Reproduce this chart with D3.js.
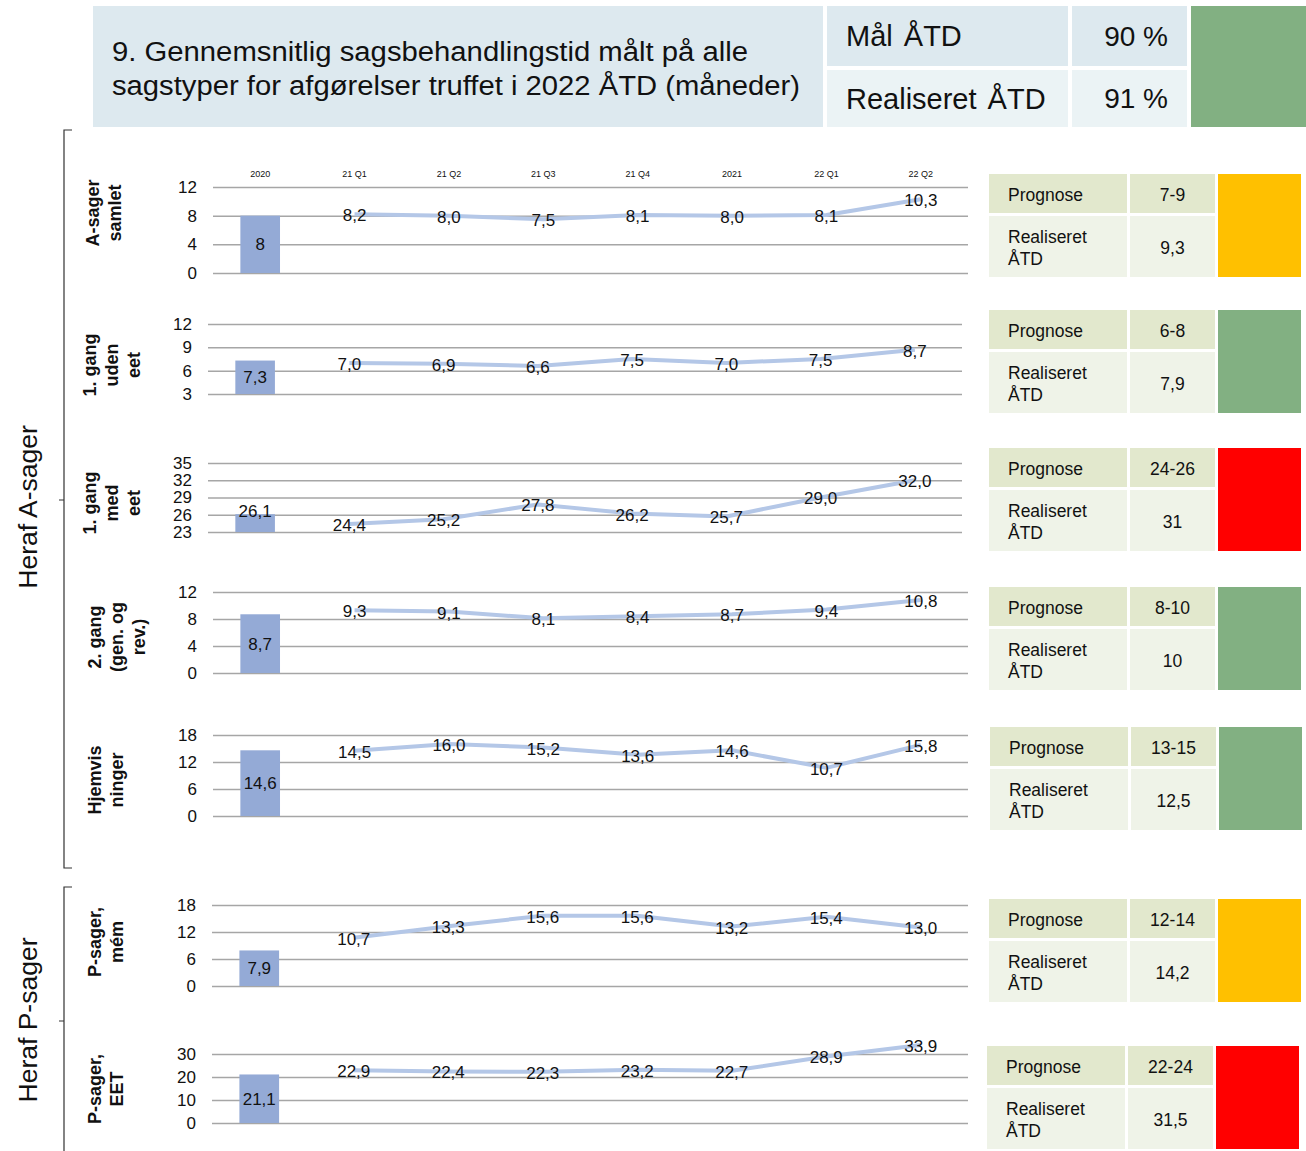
<!DOCTYPE html>
<html>
<head>
<meta charset="utf-8">
<script src="https://cdn.jsdelivr.net/npm/d3@7"></script>
<style>
  body { margin: 0; background: #fff; }
  text { font-family: "Liberation Sans", Arial, sans-serif; fill: #111; }
</style>
</head>
<body>
<div id="chart"></div>
<script>
// categories on the x axis (only printed on the first panel)
var categories = ["2020", "21 Q1", "21 Q2", "21 Q3", "21 Q4", "2021", "22 Q1", "22 Q2"];

// panel titles (lines of the rotated label)
var panelTitles = [
  ["A-sager", "samlet"],
  ["1. gang", "uden", "eet"],
  ["1. gang", "med", "eet"],
  ["2. gang", "(gen. og", "rev.)"],
  ["Hjemvis", "ninger"],
  ["P-sager,", "mém"],
  ["P-sager,", "EET"]
];

// 2020 bar value per panel
var barValues = [8, 7.3, 26.1, 8.7, 14.6, 7.9, 21.1];

// quarterly / yearly line values (21 Q1 .. 22 Q2)
var lineValues = [
  [8.2, 8.0, 7.5, 8.1, 8.0, 8.1, 10.3],
  [7.0, 6.9, 6.6, 7.5, 7.0, 7.5, 8.7],
  [24.4, 25.2, 27.8, 26.2, 25.7, 29.0, 32.0],
  [9.3, 9.1, 8.1, 8.4, 8.7, 9.4, 10.8],
  [14.5, 16.0, 15.2, 13.6, 14.6, 10.7, 15.8],
  [10.7, 13.3, 15.6, 15.6, 13.2, 15.4, 13.0],
  [22.9, 22.4, 22.3, 23.2, 22.7, 28.9, 33.9]
];

// y tick values per panel
var tickValues = [
  [0, 4, 8, 12],
  [3, 6, 9, 12],
  [23, 26, 29, 32, 35],
  [0, 4, 8, 12],
  [0, 6, 12, 18],
  [0, 6, 12, 18],
  [0, 10, 20, 30]
];

// side tables
var prognose = ["7-9", "6-8", "24-26", "8-10", "13-15", "12-14", "22-24"];
var realiseret = ["9,3", "7,9", "31", "10", "12,5", "14,2", "31,5"];
var panelStatus = ["yellow", "green", "red", "green", "green", "yellow", "red"];

// header
var headerTitle = ["9. Gennemsnitlig sagsbehandlingstid  målt på alle",
                   "sagstyper for afgørelser truffet i 2022 ÅTD (måneder)"];
var headerRows = [["Mål ÅTD", "90 %"], ["Realiseret ÅTD", "91 %"]];
var headerStatus = "green";

var groups = [
  {label: "Heraf A-sager", top: 130, bottom: 868, mid: 500, cy: 507},
  {label: "Heraf P-sager", top: 887, bottom: 1152, mid: 1021, cy: 1020}
];

// layout (pixel positions only)
var panelLayout = [
  {top: 187, bottom: 273, x0: 213, x1: 968, tx: 93, ty: 213, tabX: 989, tabY: 174},
  {top: 324, bottom: 394, x0: 208, x1: 962, tx: 90, ty: 365, tabX: 989, tabY: 310},
  {top: 463, bottom: 532, x0: 208, x1: 962, tx: 90, ty: 503, tabX: 989, tabY: 448},
  {top: 592, bottom: 673, x0: 213, x1: 968, tx: 95, ty: 637, tabX: 989, tabY: 587},
  {top: 735, bottom: 816, x0: 213, x1: 968, tx: 95, ty: 780, tabX: 990, tabY: 727},
  {top: 905, bottom: 986, x0: 212, x1: 968, tx: 95, ty: 942, tabX: 989, tabY: 899},
  {top: 1054, bottom: 1123, x0: 212, x1: 968, tx: 95, ty: 1089, tabX: 987, tabY: 1046}
];

var statusColor = {green: "#82b082", yellow: "#ffc000", red: "#ff0000"};

var locale = d3.formatLocale({decimal: ",", thousands: ".", grouping: [3], currency: ["", " kr"]});
var fmtLine = locale.format(".1f");
var fmtBar = locale.format(".1~f");

var svg = d3.select("#chart").append("svg")
  .attr("width", 1306)
  .attr("height", 1151);

// ---- header ----
var header = svg.append("g").attr("class", "header");
header.append("rect").attr("x", 93).attr("y", 6).attr("width", 730).attr("height", 121).attr("fill", "#dde9ef");
header.selectAll(".htitle")
  .data(headerTitle)
  .enter().append("text")
  .attr("class", "htitle")
  .attr("x", 112)
  .attr("y", (d, i) => 61 + i * 34)
  .attr("font-size", 27)
  .attr("textLength", (d, i) => i == 0 ? 636 : 688)
  .attr("lengthAdjust", "spacingAndGlyphs")
  .text(d => d);

headerRows.forEach(function(row, i) {
  var y = i == 0 ? 6 : 70, h = i == 0 ? 60 : 57;
  var fill = i == 0 ? "#dde9ef" : "#ebf3f5";
  header.append("rect").attr("x", 827).attr("y", y).attr("width", 241).attr("height", h).attr("fill", fill);
  header.append("rect").attr("x", 1072).attr("y", y).attr("width", 115).attr("height", h).attr("fill", fill);
  header.append("text").attr("x", 846).attr("y", y + h / 2).attr("dy", "0.35em")
    .attr("font-size", 29).attr("word-spacing", 3).text(row[0]);
  header.append("text").attr("x", 1168).attr("y", y + h / 2).attr("dy", "0.35em")
    .attr("text-anchor", "end").attr("font-size", 28).text(row[1]);
});
header.append("rect").attr("x", 1191).attr("y", 6).attr("width", 115).attr("height", 121)
  .attr("fill", statusColor[headerStatus]);

// ---- group brackets ----
groups.forEach(function(g) {
  var br = svg.append("g").attr("class", "bracket");
  br.append("path")
    .attr("d", `M72,${g.top} H64 V${g.bottom} H72 M64,${g.mid} H59`)
    .attr("fill", "none")
    .attr("stroke", "#333")
    .attr("stroke-width", 1.2);
  br.append("text")
    .attr("transform", `translate(28, ${g.cy}) rotate(-90)`)
    .attr("text-anchor", "middle")
    .attr("dy", "0.35em")
    .attr("font-size", 26.5)
    .text(g.label);
});

// ---- panels ----
panelLayout.forEach(function(lay, p) {
  var g = svg.append("g").attr("class", "panel");

  var xScale = d3.scaleBand()
    .domain(categories)
    .range([lay.x0, lay.x1]);
  var cx = d => xScale(d) + xScale.bandwidth() / 2;

  var ticks = tickValues[p];
  var yScale = d3.scaleLinear()
    .domain([ticks[0], ticks[ticks.length - 1]])
    .range([lay.bottom, lay.top]);

  // gridlines
  g.append("g")
    .attr("transform", `translate(${lay.x0},0)`)
    .call(d3.axisLeft(yScale).tickValues(ticks).tickSize(-(lay.x1 - lay.x0)).tickFormat(""))
    .call(a => a.select(".domain").remove())
    .call(a => a.selectAll("line").attr("stroke", "#a6a6a6").attr("stroke-width", 1.5));

  // y tick labels
  g.append("g")
    .attr("transform", `translate(${lay.x0},0)`)
    .call(d3.axisLeft(yScale).tickValues(ticks).tickSize(0).tickPadding(16))
    .call(a => a.select(".domain").remove())
    .call(a => a.selectAll("text").attr("font-size", 17).attr("font-family", "Liberation Sans, Arial, sans-serif").attr("fill", "#111"));

  // category labels on first panel
  if (p == 0) {
    g.selectAll(".cat")
      .data(categories)
      .enter().append("text")
      .attr("class", "cat")
      .attr("x", d => cx(d))
      .attr("y", lay.top - 10)
      .attr("text-anchor", "middle")
      .attr("font-size", 9)
      .text(d => d);
  }

  // 2020 bar
  var bw = xScale.bandwidth() * 0.42;
  var bv = barValues[p];
  var barTop = yScale(bv), barBase = yScale(ticks[0]);
  g.append("rect")
    .attr("x", cx(categories[0]) - bw / 2)
    .attr("y", barTop)
    .attr("width", bw)
    .attr("height", barBase - barTop)
    .attr("fill", "#94aad6");

  // short bars get their label pushed up to the bar top
  var labelY = (barBase - barTop) < 24 ? barTop - 3 : (barTop + barBase) / 2;
  g.append("text")
    .attr("x", cx(categories[0]))
    .attr("y", labelY)
    .attr("dy", "0.35em")
    .attr("text-anchor", "middle")
    .attr("font-size", 17)
    .text(fmtBar(bv));

  // line for quarters / years
  var pts = lineValues[p].map((v, i) => ({cat: categories[i + 1], v: v}));
  var line = d3.line()
    .x(d => cx(d.cat))
    .y(d => yScale(d.v));
  g.append("path")
    .datum(pts)
    .attr("d", line)
    .attr("fill", "none")
    .attr("stroke", "#b4c7e7")
    .attr("stroke-width", 4)
    .attr("stroke-linejoin", "round");

  g.selectAll(".lbl")
    .data(pts)
    .enter().append("text")
    .attr("class", "lbl")
    .attr("x", d => cx(d.cat))
    .attr("y", d => yScale(d.v) + 1)
    .attr("dy", "0.35em")
    .attr("text-anchor", "middle")
    .attr("font-size", 17)
    .text(d => fmtLine(d.v));

  // rotated panel title
  g.append("text")
    .attr("transform", `translate(${lay.tx}, ${lay.ty}) rotate(-90)`)
    .attr("text-anchor", "middle")
    .attr("font-size", 18)
    .attr("font-weight", "bold")
    .selectAll("tspan")
    .data(panelTitles[p])
    .enter().append("tspan")
    .attr("x", 0)
    .attr("y", (d, i) => i * 22)
    .attr("dy", "0.35em")
    .text(d => d);

  // side table
  var t = svg.append("g").attr("class", "table")
    .attr("transform", `translate(${lay.tabX}, ${lay.tabY})`);
  var w1 = 138, w2 = 85, w3 = 83, gap = 3, h1 = 39, h2 = 61;
  t.append("rect").attr("width", w1).attr("height", h1).attr("fill", "#e2e8cd");
  t.append("rect").attr("x", w1 + gap).attr("width", w2).attr("height", h1).attr("fill", "#e2e8cd");
  t.append("rect").attr("y", h1 + gap).attr("width", w1).attr("height", h2).attr("fill", "#eff3e8");
  t.append("rect").attr("x", w1 + gap).attr("y", h1 + gap).attr("width", w2).attr("height", h2).attr("fill", "#eff3e8");
  t.append("rect").attr("x", w1 + w2 + 2 * gap).attr("width", w3).attr("height", h1 + gap + h2)
    .attr("fill", statusColor[panelStatus[p]]);

  t.append("text").attr("x", 19).attr("y", h1 / 2 + 1).attr("dy", "0.35em")
    .attr("font-size", 17.5).text("Prognose");
  t.append("text").attr("x", w1 + gap + w2 / 2).attr("y", h1 / 2 + 1).attr("dy", "0.35em")
    .attr("text-anchor", "middle").attr("font-size", 17.5).text(prognose[p]);
  t.append("text").attr("x", 19).attr("y", h1 + gap + h2 / 2 - 10).attr("dy", "0.35em")
    .attr("font-size", 17.5).text("Realiseret");
  t.append("text").attr("x", 19).attr("y", h1 + gap + h2 / 2 + 12).attr("dy", "0.35em")
    .attr("font-size", 17.5).text("ÅTD");
  t.append("text").attr("x", w1 + gap + w2 / 2).attr("y", h1 + gap + h2 / 2 + 1).attr("dy", "0.35em")
    .attr("text-anchor", "middle").attr("font-size", 17.5).text(realiseret[p]);
});
</script>
</body>
</html>
